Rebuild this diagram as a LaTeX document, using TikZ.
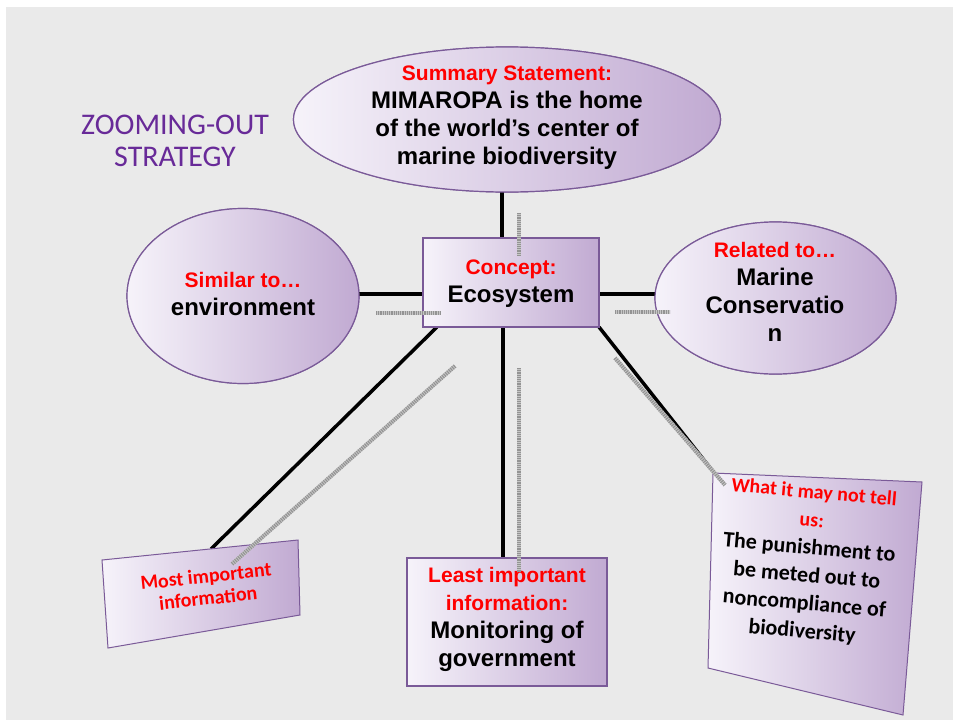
\documentclass[tikz,border=0pt]{standalone}
\usepackage{fontspec}
\setmainfont{Liberation Sans}
\newfontfamily\calfont{Carlito}
\usetikzlibrary{shapes.geometric}

\definecolor{paper}{RGB}{234,234,234}
\definecolor{lavlight}{RGB}{246,243,250}
\definecolor{lavdark}{RGB}{193,170,210}
\definecolor{rim}{RGB}{122,90,152}
\definecolor{hotred}{RGB}{255,0,0}
\definecolor{titlepurple}{RGB}{104,42,152}

% per-line size and colour of the red headings
\newcommand\redline{\fontsize{21}{28}\selectfont\color{hotred}}
\newcommand\redcal{\fontsize{20}{28}\selectfont\color{hotred}}

\tikzset{
  bubble/.style={ellipse, draw=rim, line width=1.2pt, left color=lavlight,
    right color=lavdark, inner sep=0pt, outer sep=0pt},
  panelbox/.style={rectangle, draw=rim, line width=1.2pt, left color=lavlight,
    right color=lavdark, inner sep=0pt, outer sep=0pt},
  panel/.style={draw=rim, line width=1pt, left color=lavlight, right color=lavdark},
  label/.style={align=center, inner sep=0pt,
    font={\bfseries\fontsize{24}{28}\selectfont}},
  callabel/.style={align=center, inner sep=0pt,
    font={\calfont\bfseries\fontsize{22}{28}\selectfont}},
  conn/.style={line width=3.5pt, black},
  trailbase/.style={line width=4pt, draw=gray!45},
  trail/.style={line width=4pt, draw=gray!85, dash pattern=on 1.1pt off 1.1pt},
}

\begin{document}
\begin{tikzpicture}[x=1pt,y=-1pt]
\useasboundingbox (0,0) rectangle (958,723);
\fill[white] (0,0) rectangle (958,723);
\fill[paper] (6,7) rectangle (953,720);

% title
\node[align=center, inner sep=0pt, text=titlepurple,
      font=\calfont\fontsize{30}{32}\selectfont] (title) at (175,141)
  {ZOOMING-OUT\\STRATEGY};

% corner points of the two tilted cards
\coordinate (mA) at (102,560);
\coordinate (mB) at (298,540);
\coordinate (mC) at (300,615);
\coordinate (mD) at (108,648);
\coordinate (mostTop) at (211,549);
\coordinate (nA) at (713,473);
\coordinate (nB) at (922,482);
\coordinate (nC) at (903,715);
\coordinate (nD) at (708,668);
\coordinate (notTop) at (711,469);

% shapes without text
\node[bubble, minimum width=427pt, minimum height=145pt] (summary) at (507,119.5) {};
\node[panelbox, minimum width=176pt, minimum height=89pt] (concept) at (511,282.5) {};
\node[bubble, minimum width=232pt, minimum height=175pt] (similar) at (243,296) {};
\node[bubble, minimum width=241pt, minimum height=152pt] (related) at (775.5,298) {};
\node[panelbox, minimum width=200pt, minimum height=128pt] (least) at (507,622) {};

% connectors
\draw[conn] ([xshift=-5pt]summary.south) -- ([xshift=-9pt]concept.north);
\draw[conn] ([yshift=2pt]similar.east) -- ([yshift=2pt]similar.east -| concept.west);
\draw[conn] ([yshift=4pt]related.west) -- ([yshift=4pt]related.west -| concept.east);
\draw[conn] ([xshift=14pt]concept.south west) -- (mostTop);
\draw[conn] ([xshift=-8pt]concept.south) -- ([xshift=-4pt]least.north);
\draw[conn] (concept.south east) -- (notTop);

% redraw the shapes over the connector ends
\node[bubble, minimum width=427pt, minimum height=145pt] at (summary) {};
\node[panelbox, minimum width=176pt, minimum height=89pt] at (concept) {};
\node[bubble, minimum width=232pt, minimum height=175pt] at (similar) {};
\node[bubble, minimum width=241pt, minimum height=152pt] at (related) {};
\node[panelbox, minimum width=200pt, minimum height=128pt] at (least) {};
\path[panel] (mA) -- (mB) -- (mC) -- (mD) -- cycle;
\path[panel] (nA) -- (nB) -- (nC) -- (nD) -- cycle;

% labels
\node[label] (summaryText) at (507,118)
  {\redline Summary Statement:\\ MIMAROPA is the home\\
   of the world’s center of\\ marine biodiversity};
\node[label] (conceptText) at (511,284)
  {\redline Concept:\\ Ecosystem};
\node[label] (similarText) at (243,294)
  {\redline Similar to…\\ environment};
\node[label] (relatedText) at (775,292)
  {\redline Related to…\\ Marine\\ Conservatio\\ n};
\node[label] (leastText) at (507,619)
  {\redline Least important\\ \redline information:\\
   Monitoring of\\ government};
\node[align=center, inner sep=0pt, rotate=6, text=hotred,
      font={\calfont\bfseries\fontsize{20}{22}\selectfont}] (mostText) at (207,587)
  {Most important\\ information};
\node[callabel, rotate=-5] (notText) at (808,563)
  {\redcal What it may not tell\\ \redcal us:\\ The punishment to\\
   be meted out to\\ noncompliance of\\ biodiversity};

% grey hatched trails
\coordinate (t1a) at (519,213);  \coordinate (t1b) at (519,256);
\coordinate (t2a) at (376,313);  \coordinate (t2b) at (440,313);
\coordinate (t3a) at (615,312);  \coordinate (t3b) at (670,312);
\coordinate (t4a) at (455,366);  \coordinate (t4b) at (232,564);
\coordinate (t5a) at (519,368);  \coordinate (t5b) at (519,572);
\coordinate (t6a) at (615,358);  \coordinate (t6b) at (725,485);
\foreach \a/\b in {t1a/t1b, t2a/t2b, t3a/t3b, t4a/t4b, t5a/t5b, t6a/t6b} {
  \draw[trailbase] (\a) -- (\b);
  \draw[trail] (\a) -- (\b);
}
\end{tikzpicture}
\end{document}
